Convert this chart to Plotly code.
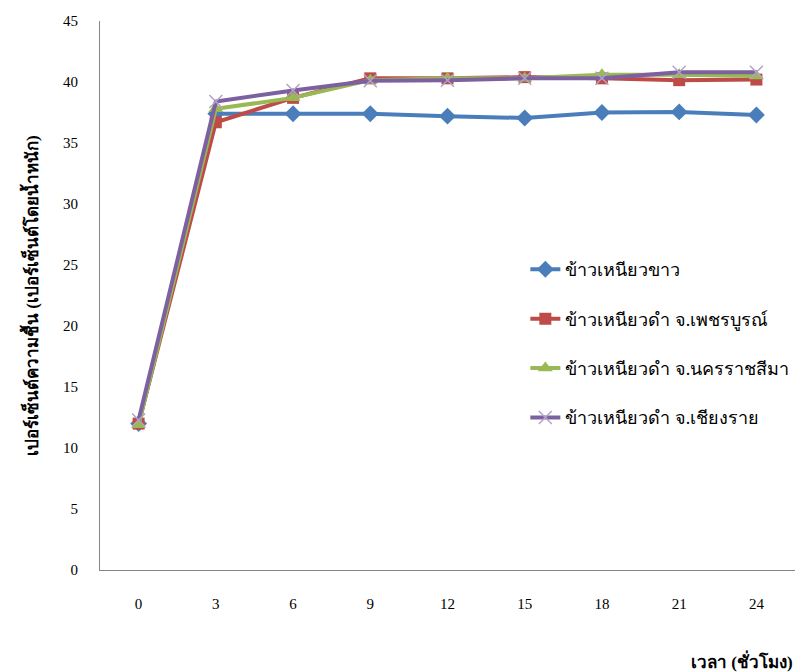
import plotly.graph_objects as go

hours = ["0", "3", "6", "9", "12", "15", "18", "21", "24"]

white_sticky = [12.0, 37.4, 37.4, 37.4, 37.2, 37.05, 37.5, 37.55, 37.3]
black_phetchabun = [12.0, 36.7, 38.7, 40.3, 40.3, 40.4, 40.3, 40.15, 40.2]
black_nakhonratchasima = [11.9, 37.8, 38.7, 40.15, 40.3, 40.3, 40.6, 40.6, 40.5]
black_chiangrai = [12.3, 38.4, 39.3, 40.1, 40.15, 40.3, 40.3, 40.8, 40.8]

series_names = [
    "ข้าวเหนียวขาว",
    "ข้าวเหนียวดำ จ.เพชรบูรณ์",
    "ข้าวเหนียวดำ จ.นครราชสีมา",
    "ข้าวเหนียวดำ จ.เชียงราย",
]

y_title = "เปอร์เซ็นต์ความชื้น (เปอร์เซ็นต์โดยน้ำหนัก)"
x_title = "เวลา (ชั่วโมง)"

FONT = "Liberation Serif, Noto Sans, serif"

styles = [
    dict(color="#4a7ebb", symbol="diamond", size=13),
    dict(color="#be4b48", symbol="square", size=12),
    dict(color="#98b954", symbol="triangle-up", size=13),
    dict(color="#7d60a0", symbol="x-thin", size=13),
]

fig = go.Figure()
for i, (name, vals, st) in enumerate(zip(
        series_names,
        [white_sticky, black_phetchabun, black_nakhonratchasima, black_chiangrai],
        styles)):
    marker = dict(symbol=st["symbol"], size=st["size"], color=st["color"])
    if st["symbol"] == "x-thin":
        marker["line"] = dict(color="#b3a2c7", width=1.5)
    fig.add_trace(go.Scatter(
        x=hours, y=vals, name=name, mode="lines+markers",
        legendgroup=f"g{i}",
        line=dict(color=st["color"], width=4),
        marker=marker,
    ))

fig.update_layout(
    width=797, height=672,
    margin=dict(l=100, r=2, t=21, b=102),
    paper_bgcolor="white", plot_bgcolor="white",
    font=dict(family=FONT, size=15, color="black"),
    showlegend=True,
    legend=dict(
        x=0.612, y=0.581, xanchor="left", yanchor="top",
        font=dict(family=FONT, size=18, color="black"),
        tracegroupgap=23, itemwidth=30,
        traceorder="grouped",
        bgcolor="rgba(0,0,0,0)",
    ),
    xaxis=dict(
        type="category", range=[-0.5, 8.5],
        showline=True, linecolor="#868686", linewidth=1,
        showgrid=False, ticks="", ticklabelstandoff=20,
        tickfont=dict(family=FONT, size=15),
    ),
    yaxis=dict(
        range=[0, 45], dtick=5,
        showline=True, linecolor="#868686", linewidth=1,
        showgrid=False, ticks="", zeroline=False,
        ticklabelstandoff=18,
        tickfont=dict(family=FONT, size=15),
    ),
)

fig.add_annotation(
    text="<b>" + y_title + "</b>", textangle=-90,
    xref="paper", yref="paper", x=-0.1, y=0.5,
    xanchor="center", yanchor="middle", showarrow=False,
    font=dict(family=FONT, size=17, color="black"),
)
fig.add_annotation(
    text="<b>" + x_title + "</b>",
    xref="paper", yref="paper", x=1.0, y=-0.165,
    xanchor="right", yanchor="middle", showarrow=False,
    font=dict(family=FONT, size=17, color="black"),
)

fig.write_html("out.html")
